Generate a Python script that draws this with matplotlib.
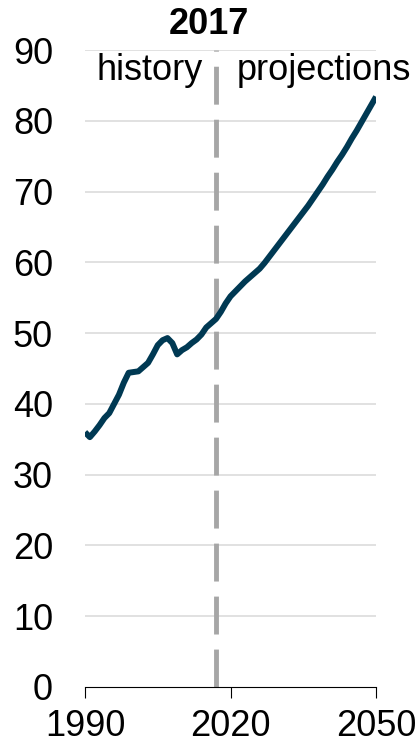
import numpy as np
import matplotlib
matplotlib.use('Agg')
import matplotlib.pyplot as plt

plt.rcParams['font.family'] = ['Liberation Sans', 'DejaVu Sans']

# values
years = np.arange(1990, 2051)
values = [36.0, 35.3, 36.1, 37.0, 38.0, 38.7, 40.0, 41.3, 43.0, 44.4,
          44.5, 44.6, 45.2, 45.8, 47.0, 48.3, 49.0, 49.3, 48.6, 47.0,
          47.6, 48.0, 48.6, 49.1, 49.8, 50.8, 51.4, 52.0, 53.0, 54.2,
          55.2, 55.9, 56.6, 57.3, 57.9, 58.5, 59.1, 59.9, 60.8, 61.7,
          62.6, 63.5, 64.4, 65.3, 66.2, 67.1, 68.0, 69.0, 70.0, 71.0,
          72.1, 73.1, 74.2, 75.2, 76.3, 77.5, 78.6, 79.8, 81.0, 82.2,
          83.4]
split_year = 2017
x_ticks = [1990, 2020, 2050]
y_ticks = [0, 10, 20, 30, 40, 50, 60, 70, 80, 90]

fig = plt.figure(figsize=(4.2, 7.5), dpi=100)
ax = fig.add_axes([0.2024, 0.084, 0.6929, 0.8493])

# gridlines
for yv in y_ticks[1:]:
    ax.axhline(yv, color='#d9d9d9', lw=1.1, zorder=1)

# history / projections divider
ax.plot([split_year, split_year], [0, 90], color='#a6a6a6', lw=3.5,
        linestyle=(0, (7.8, 3.1)), zorder=2)

ax.plot(years, values, color='#003953', lw=4.3, zorder=3,
        solid_capstyle='butt', solid_joinstyle='round')

ax.set_xlim(1990, 2050)
ax.set_ylim(0, 90)
ax.set_xticks(x_ticks)
ax.set_yticks(y_ticks)
ax.tick_params(axis='x', direction='out', length=7.7, width=0.8,
               labelsize=26, pad=8)
ax.tick_params(axis='y', length=0, labelsize=26, pad=23)

for s in ['top', 'right', 'left']:
    ax.spines[s].set_visible(False)
ax.spines['bottom'].set_linewidth(0.8)
ax.spines['bottom'].set_zorder(4)

ax.text(2015.6, 92.3, '2017', ha='center', va='baseline', fontsize=26,
        fontweight='bold', clip_on=False)
ax.text(2014.4, 85.7, 'history', ha='right', va='baseline', fontsize=26,
        clip_on=False)
ax.text(2021.2, 85.7, 'projections', ha='left', va='baseline', fontsize=26,
        clip_on=False)

fig.savefig('out.png', dpi=100)
